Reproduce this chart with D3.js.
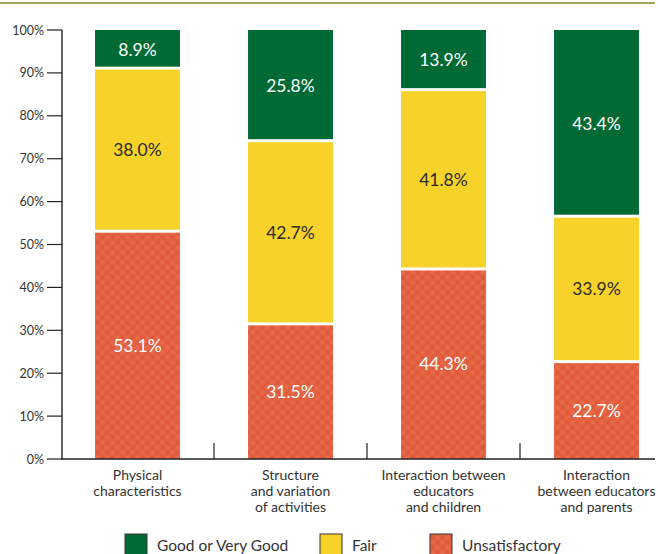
<!DOCTYPE html>
<html><head><meta charset="utf-8">
<script src="https://cdn.jsdelivr.net/npm/d3@7"></script>
<style>body{margin:0;background:#fff}svg{display:block}</style>
</head><body>
<script>
const categories = [
  ["Physical", "characteristics"],
  ["Structure", "and variation", "of activities"],
  ["Interaction between", "educators", "and children"],
  ["Interaction", "between educators", "and parents"]
];
const unsatisfactory = [53.1, 31.5, 44.3, 22.7];
const fair = [38.0, 42.7, 41.8, 33.9];
const good = [8.9, 25.8, 13.9, 43.4];
const seriesNames = ["Unsatisfactory", "Fair", "Good or Very Good"];
const yTicks = [0,10,20,30,40,50,60,70,80,90,100];

const W = 658, H = 554;
const font = "Lato, 'Open Sans', sans-serif";
const svg = d3.select("body").append("svg").attr("width", W).attr("height", H);

const defs = svg.append("defs");
const blur = defs.append("filter").attr("id","soft");
blur.append("feGaussianBlur").attr("stdDeviation",0.9);
const pat = defs.append("pattern").attr("id","dots").attr("patternUnits","userSpaceOnUse")
  .attr("width",10).attr("height",10);
pat.append("rect").attr("width",10).attr("height",10).attr("fill","#df5639");
const pg = pat.append("g").attr("filter","url(#soft)");
[[2.5,2.5],[7.5,7.5],[12.5,2.5],[-2.5,7.5],[2.5,12.5],[7.5,-2.5]].forEach(([cx,cy])=>
  pg.append("circle").attr("cx",cx).attr("cy",cy).attr("r",2.8).attr("fill","#e76e4c"));

const colors = {"Unsatisfactory":"url(#dots)","Fair":"#f7d32a","Good or Very Good":"#006a35"};
const textColors = {"Unsatisfactory":"#fff","Fair":"#2a2a2a","Good or Very Good":"#fff"};

// top rule
svg.append("line").attr("x1",0).attr("x2",655).attr("y1",3).attr("y2",3)
  .attr("stroke","#a3a15f").attr("stroke-width",2);

const x = d3.scaleBand().domain(d3.range(categories.length)).range([61, 673]).paddingInner(0.445).paddingOuter(0.2225);
const y = d3.scaleLinear().domain([0,100]).range([459, 30]);

const data = categories.map((c,i)=>({i, "Unsatisfactory":unsatisfactory[i], "Fair":fair[i], "Good or Very Good":good[i]}));
const stack = d3.stack().keys(seriesNames)(data);

const g = svg.append("g");
stack.forEach(layer=>{
  const key = layer.key;
  layer.forEach((d,i)=>{
    const top = y(d[1]) + (d[1] >= 99.9 ? 0 : 1.5);
    const bot = y(d[0]) - (d[0] <= 0.1 ? 0 : 1.5);
    g.append("rect").attr("x", x(i)).attr("width", x.bandwidth())
      .attr("y", top).attr("height", bot - top).attr("fill", colors[key]);
    g.append("text").attr("x", x(i)+x.bandwidth()/2).attr("y",(y(d[0])+y(d[1]))/2)
      .attr("text-anchor","middle").attr("dominant-baseline","central")
      .attr("font-family",font).attr("font-size",17.5).attr("fill",textColors[key])
      .text(d.data[key].toFixed(1)+"%");
  });
});

// y axis
const ya = svg.append("g");
ya.append("line").attr("x1",62).attr("x2",62).attr("y1",y(100)).attr("y2",y(0)).attr("stroke","#222").attr("stroke-width",1.4);
yTicks.forEach(t=>{
  ya.append("line").attr("x1",47).attr("x2",62).attr("y1",y(t)).attr("y2",y(t)).attr("stroke","#222").attr("stroke-width",1.2);
  ya.append("text").attr("x",44).attr("y",y(t)).attr("text-anchor","end").attr("dominant-baseline","central")
    .attr("font-family",font).attr("font-size",12.5).attr("fill","#333").text(t+"%");
});
// x axis
svg.append("line").attr("x1",61).attr("x2",655).attr("y1",y(0)).attr("y2",y(0)).attr("stroke","#222").attr("stroke-width",1.4);
for(let i=1;i<categories.length;i++){
  const px = x(i) - (x.step()-x.bandwidth())/2;
  svg.append("line").attr("x1",px).attr("x2",px).attr("y1",y(0)-16).attr("y2",y(0)).attr("stroke","#222").attr("stroke-width",1.2);
}
categories.forEach((lines,i)=>{
  const t = svg.append("text").attr("x",x(i)+x.bandwidth()/2).attr("y",480)
    .attr("text-anchor","middle").attr("font-family",font).attr("font-size",14).attr("fill","#333");
  lines.forEach((l,k)=>t.append("tspan").attr("x",x(i)+x.bandwidth()/2).attr("dy",k?16:0).text(l));
});

// legend
const legX = [125, 320, 430];
const legOrder = ["Good or Very Good","Fair","Unsatisfactory"];
legOrder.forEach((k,i)=>{
  svg.append("rect").attr("x",legX[i]).attr("y",534).attr("width",22).attr("height",22)
    .attr("fill",colors[k]).attr("stroke","#333").attr("stroke-width",1);
  svg.append("text").attr("x",legX[i]+32).attr("y",545).attr("dominant-baseline","central")
    .attr("font-family",font).attr("font-size",15.5).attr("fill","#333").text(k);
});
</script>
</body></html>
